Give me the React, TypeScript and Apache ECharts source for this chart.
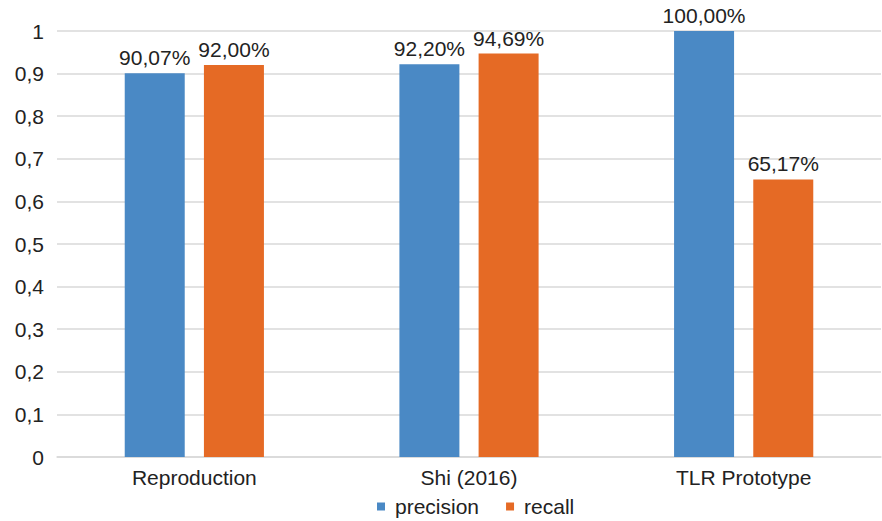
import React, { useEffect, useRef } from "react";
import * as echarts from "echarts";

const categories = ["Reproduction", "Shi (2016)", "TLR Prototype"];
const precision = [0.9007, 0.922, 1.0];
const recall = [0.92, 0.9469, 0.6517];

const fmtPct = (v: number) => (v * 100).toFixed(2).replace(".", ",") + "%";

export default function App() {
  const ref = useRef<HTMLDivElement>(null);
  useEffect(() => {
    if (!ref.current) return;
    const chart = echarts.init(ref.current, undefined, { renderer: "svg" });
    const font = "'Liberation Sans', Arial, Helvetica, sans-serif";
    const fs = 21;
    chart.setOption({
      animation: false,
      backgroundColor: "#fff",
      textStyle: { fontFamily: font },
      grid: { left: 57, right: 1, top: 31, bottom: 64, containLabel: false },
      legend: {
        top: 496,
        left: 377,
        padding: 0,
        itemWidth: 8,
        itemHeight: 8,
        itemGap: 27,
        icon: "rect",
        textStyle: { fontSize: fs, color: "#222", fontFamily: font, padding: [0, 0, 0, 5] },
        data: ["precision", "recall"],
      },
      xAxis: {
        type: "category",
        data: categories,
        axisTick: { show: false },
        axisLine: { lineStyle: { color: "#d9d9d9", width: 1.5 } },
        axisLabel: { fontSize: fs, color: "#222", margin: 10, fontFamily: font },
      },
      yAxis: {
        type: "value",
        min: 0,
        max: 1,
        interval: 0.1,
        axisLine: { show: false },
        axisTick: { show: false },
        splitLine: { lineStyle: { color: "#d9d9d9", width: 1.5 } },
        axisLabel: {
          fontSize: fs,
          color: "#222",
          margin: 13,
          fontFamily: font,
          formatter: (v: number) => (Math.round(v * 10) / 10).toString().replace(".", ","),
        },
      },
      series: [
        {
          name: "precision",
          type: "bar",
          data: precision,
          barWidth: 60,
          barGap: "32%",
          itemStyle: { color: "#4a89c5" },
          label: {
            show: true,
            position: "top",
            distance: 5,
            fontSize: fs,
            color: "#222",
            fontFamily: font,
            formatter: (p: any) => fmtPct(p.value),
          },
        },
        {
          name: "recall",
          type: "bar",
          data: recall,
          barWidth: 60,
          itemStyle: { color: "#e56a25" },
          label: {
            show: true,
            position: "top",
            distance: 5,
            fontSize: fs,
            color: "#222",
            fontFamily: font,
            formatter: (p: any) => fmtPct(p.value),
          },
        },
      ],
    });
    return () => chart.dispose();
  }, []);
  return (
    <div
      ref={ref}
      style={{ position: "fixed", left: 0, top: 0, width: 882, height: 521 }}
    />
  );
}
